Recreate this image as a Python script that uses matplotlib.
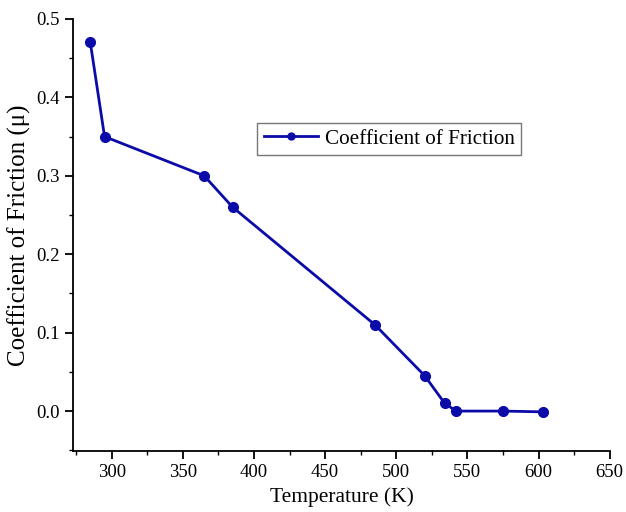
import matplotlib
matplotlib.use("Agg")
import matplotlib.pyplot as plt
from matplotlib.ticker import MultipleLocator

temperature = [285, 295, 365, 385, 485, 520, 534, 542, 575, 603]
friction = [0.47, 0.35, 0.30, 0.26, 0.11, 0.045, 0.01, 0.0, 0.0, -0.001]

plt.rcParams["font.family"] = ["Liberation Serif", "DejaVu Serif"]

fig = plt.figure(figsize=(6.26, 5.12), dpi=100)
ax = fig.add_axes([0.117, 0.119, 0.857, 0.844])

ax.plot(temperature, friction, color="#0b0ba8", lw=2.0, marker="o", ms=7,
        label="Coefficient of Friction")

ax.set_xlim(273, 650)
ax.set_ylim(-0.051, 0.5)
ax.xaxis.set_major_locator(MultipleLocator(50))
ax.xaxis.set_minor_locator(MultipleLocator(25))
ax.yaxis.set_major_locator(MultipleLocator(0.1))
ax.yaxis.set_minor_locator(MultipleLocator(0.05))
ax.yaxis.set_major_formatter(matplotlib.ticker.FormatStrFormatter("%.1f"))

for s in ["top", "right"]:
    ax.spines[s].set_visible(False)
for s in ["left", "bottom"]:
    ax.spines[s].set_linewidth(1.3)
ax.tick_params(which="major", direction="out", length=6, width=1.3, labelsize=13.5)
ax.tick_params(which="minor", direction="out", length=3, width=1.0)

ax.set_xlabel("Temperature (K)", fontsize=15.5)
ax.set_ylabel("Coefficient of Friction (\u03bc)", fontsize=18)

leg = ax.legend(loc="upper left", bbox_to_anchor=(0.343, 0.76), fontsize=15.2,
                frameon=True, fancybox=False, edgecolor="#555555",
                handlelength=2.6, borderpad=0.3, handletextpad=0.3,
                borderaxespad=0)
leg.get_frame().set_linewidth(1.0)
for h in leg.legend_handles:
    h.set_markersize(5)

fig.savefig("out.png", dpi=100)
